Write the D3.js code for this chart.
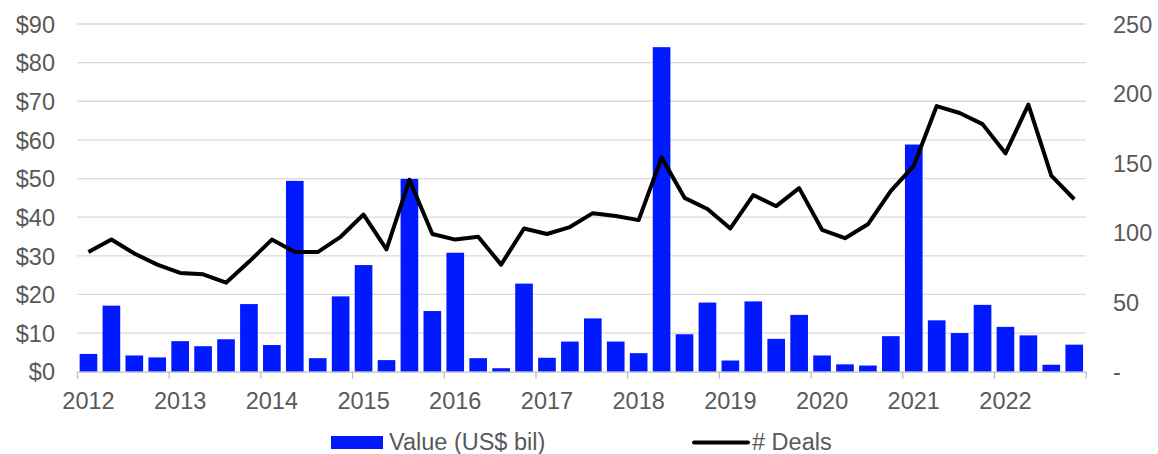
<!DOCTYPE html>
<html><head><meta charset="utf-8">
<script src="https://cdn.jsdelivr.net/npm/d3@7"></script>
<style>body{margin:0;background:#fff}svg{display:block}text{font-family:"Liberation Sans",Arial,sans-serif;fill:#595959}</style>
</head><body><svg id="c" width="1158" height="454"></svg>
<script>
const quarters = [];
const years = [2012,2013,2014,2015,2016,2017,2018,2019,2020,2021,2022];
years.forEach(y => [1,2,3,4].forEach(q => quarters.push(y + "Q" + q)));
const values = [4.6,17.1,4.2,3.7, 7.9,6.6,8.4,17.5, 6.9,49.4,3.5,19.5, 27.6,3.0,49.9,15.7,
  30.8,3.5,0.9,22.8, 3.6,7.8,13.8,7.8, 4.8,84.0,9.7,17.9, 2.9,18.2,8.5,14.7,
  4.2,1.9,1.6,9.2, 58.8,13.3,10.0,17.3, 11.6,9.4,1.8,7.0];
const deals = [86,95,85,77, 71,70,64,79, 95,86,86,97, 113,88,138,99,
  95,97,77,103, 99,104,114,112, 109,154,125,117, 103,127,119,132,
  102,96,106,130, 148,191,186,178, 157,192,141,124];
const leftTicks = [0,10,20,30,40,50,60,70,80,90];
const rightTicks = [0,50,100,150,200,250];
const seriesNames = ["Value (US$ bil)", "# Deals"];

const svg = d3.select("#c");
const L = 77, R = 1085.7, T = 24, B = 371.7;
const FS = 23.5;
const x = d3.scaleBand().domain(quarters).range([L, R]).paddingInner(0.23).paddingOuter(0.115);
const yL = d3.scaleLinear().domain([0, 90]).range([B, T]);
const yR = d3.scaleLinear().domain([0, 250]).range([B, T]);
const xYear = d3.scaleLinear().domain([2012, 2023]).range([L, R]);

// gridlines
svg.append("g").selectAll("line").data(leftTicks.filter(d => d > 0)).join("line")
  .attr("x1", L).attr("x2", R).attr("y1", d => yL(d)).attr("y2", d => yL(d))
  .attr("stroke", "#d9d9d9").attr("stroke-width", 1.3);

// bars
svg.append("g").selectAll("rect").data(values).join("rect")
  .attr("x", (d, i) => x(quarters[i])).attr("width", x.bandwidth())
  .attr("y", d => yL(d)).attr("height", d => B - yL(d))
  .attr("fill", "#0019ff");

// line
svg.append("path").datum(deals)
  .attr("d", d3.line().x((d, i) => x(quarters[i]) + x.bandwidth() / 2).y(d => yR(d)))
  .attr("fill", "none").attr("stroke", "#000").attr("stroke-width", 4).attr("stroke-linejoin", "round");

// x axis
const xa = svg.append("g").attr("transform", `translate(0,${B})`)
  .call(d3.axisBottom(xYear).tickValues(d3.range(2012, 2024)).tickSize(7).tickSizeOuter(0).tickFormat(""));
xa.select(".domain").attr("stroke", "#bfbfbf").attr("stroke-width", 1.3);
xa.selectAll(".tick line").attr("stroke", "#bfbfbf").attr("stroke-width", 1.3);
svg.append("g").selectAll("text").data(years).join("text")
  .attr("x", d => xYear(d + 0.125)).attr("y", 409).attr("text-anchor", "middle")
  .attr("font-size", FS).text(d => d);

// left axis
const la = svg.append("g").attr("transform", `translate(55,0)`)
  .call(d3.axisLeft(yL).tickValues(leftTicks).tickSize(0).tickFormat(d => "$" + d));
la.select(".domain").remove();
la.selectAll("text").attr("x", 0).attr("dy", "0.35em").attr("font-size", FS).style("fill", "#595959");

// right axis
const ra = svg.append("g").attr("transform", `translate(1113,0)`)
  .call(d3.axisRight(yR).tickValues(rightTicks).tickSize(0).tickFormat(d => d === 0 ? "-" : d));
ra.select(".domain").remove();
ra.selectAll("text").attr("x", 0).attr("dy", "0.35em").attr("font-size", FS).style("fill", "#595959");

// legend
const lg = svg.append("g");
lg.append("rect").attr("x", 331).attr("y", 436).attr("width", 52).attr("height", 13).attr("fill", "#0019ff");
lg.append("text").attr("x", 389).attr("y", 450).attr("font-size", FS).text(seriesNames[0]);
lg.append("line").attr("x1", 694).attr("x2", 748).attr("y1", 442.5).attr("y2", 442.5)
  .attr("stroke", "#000").attr("stroke-width", 4).attr("stroke-linecap", "round");
lg.append("text").attr("x", 752).attr("y", 450).attr("font-size", FS).text(seriesNames[1]);
</script></body></html>
